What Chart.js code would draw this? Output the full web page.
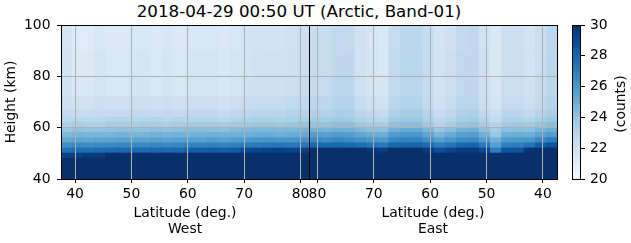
<!DOCTYPE html>
<html>
<head>
<meta charset="utf-8">
<script src="https://cdn.jsdelivr.net/npm/chart.js@4.4.1/dist/chart.umd.min.js"></script>
<style>
  html, body { margin: 0; padding: 0; background: #fff; }
  #fig { position: relative; width: 631px; height: 243px; overflow: hidden; font-family: "DejaVu Sans", sans-serif; }
  #fig canvas { position: absolute; top: 0; }
  #titulo { position: absolute; left: 0; top: 1px; width: 598px; text-align: center;
            font-size: 16.7px; line-height: 20px; color: #000; white-space: nowrap; }
</style>
</head>
<body>
<div id="fig">
  <div id="titulo">2018-04-29 00:50 UT (Arctic, Band-01)</div>
  <canvas id="c-west" width="320" height="243" style="left:0;width:320px;height:243px"></canvas>
  <canvas id="c-east" width="280" height="243" style="left:290px;width:280px;height:243px"></canvas>
  <canvas id="c-cbar" width="71" height="243" style="left:560px;width:71px;height:243px"></canvas>
</div>
<script>
/* ---------------- dados ---------------- */
// centros das colunas de latitude (2 graus)
const LATITUDES = [38.5, 40.5, 42.5, 44.5, 46.5, 48.5, 50.5, 52.5, 54.5, 56.5, 58.5,
                   60.5, 62.5, 64.5, 66.5, 68.5, 70.5, 72.5, 74.5, 76.5, 78.5, 80.5];
// limites das faixas de altura (km)
const HEIGHT_EDGES = [40, 48, 50, 52, 54, 56, 58, 60, 62, 64, 67, 72, 80, 90, 100];

const X_TICKS = [40, 50, 60, 70, 80];
const Y_TICKS = [40, 60, 80, 100];
const CBAR_TICKS = [20, 22, 24, 26, 28, 30];

// contagens, uma linha por faixa de altura (de baixo para cima), colunas por LATITUDES
const WEST_COUNTS = [
  [31, 31, 31, 31, 31, 31, 31, 31, 31, 31, 31, 31, 31, 31, 31, 31, 31, 31, 31, 31, 31, 31],                 // 40-48
  [29.3, 29.3, 29.6, 29.6, 30, 30, 30, 30, 30, 30, 30, 31, 31, 31, 31, 31, 31, 31, 31, 31, 31, 31],         // 48-50
  [27.5, 27.6, 27.6, 27.7, 27.8, 27.9, 27.8, 27.8, 27.9, 27.8, 27.9, 28.2, 28.2, 28.3, 28.2, 28.3, 29.0, 29.2, 29.3, 29.3, 29.2, 29.3], // 50-52
  [26.3, 26.5, 26.4, 26.5, 26.6, 26.7, 26.6, 26.6, 26.7, 26.6, 26.7, 26.8, 26.8, 26.9, 26.8, 26.9, 27.1, 27.2, 27.3, 27.3, 27.2, 27.3], // 52-54
  [25.2, 25.4, 25.3, 25.4, 25.5, 25.6, 25.5, 25.5, 25.6, 25.5, 25.6, 25.6, 25.6, 25.7, 25.6, 25.7, 25.9, 26.0, 26.1, 26.0, 26.0, 26.1], // 54-56
  [24.5, 24.7, 24.6, 24.6, 24.7, 24.8, 24.7, 24.7, 24.8, 24.7, 24.8, 24.8, 24.8, 24.9, 24.8, 24.9, 25.0, 25.1, 25.1, 25.0, 25.1, 25.2], // 56-58
  [23.9, 24.1, 24.0, 24.0, 24.1, 24.2, 24.1, 24.1, 24.2, 24.1, 24.2, 24.3, 24.3, 24.3, 24.2, 24.4, 24.5, 24.6, 24.6, 24.5, 24.6, 24.7], // 58-60
  [23.3, 23.4, 23.3, 23.3, 23.5, 23.5, 23.4, 23.5, 23.5, 23.4, 23.5, 23.6, 23.6, 23.6, 23.5, 23.7, 23.8, 23.9, 23.9, 23.8, 23.9, 24.0], // 60-62
  [22.9, 22.9, 22.8, 22.9, 23.0, 23.0, 22.9, 23.0, 23.0, 22.9, 23.0, 23.0, 23.0, 23.0, 22.9, 23.1, 23.2, 23.3, 23.3, 23.2, 23.3, 23.4], // 62-64
  [22.6, 22.4, 22.4, 22.5, 22.5, 22.5, 22.6, 22.6, 22.5, 22.6, 22.5, 22.7, 22.7, 22.7, 22.5, 22.7, 22.8, 22.9, 22.9, 22.9, 23.0, 23.1], // 64-67
  [22.3, 22.0, 22.0, 22.2, 22.1, 22.1, 22.2, 22.2, 22.1, 22.2, 22.1, 22.2, 22.2, 22.2, 22.0, 22.2, 22.4, 22.5, 22.5, 22.5, 22.6, 22.7], // 67-72
  [22.0, 21.6, 21.6, 21.8, 21.6, 21.6, 21.8, 21.8, 21.6, 21.8, 21.6, 21.8, 21.8, 21.8, 21.6, 21.8, 22.0, 22.1, 22.1, 22.1, 22.2, 22.4], // 72-80
  [21.9, 21.4, 21.4, 21.7, 21.5, 21.5, 21.7, 21.7, 21.5, 21.7, 21.5, 21.7, 21.7, 21.7, 21.5, 21.7, 21.9, 22.0, 22.0, 22.0, 22.1, 22.3], // 80-90
  [21.8, 21.3, 21.3, 21.6, 21.4, 21.4, 21.6, 21.6, 21.4, 21.6, 21.4, 21.6, 21.6, 21.6, 21.4, 21.6, 21.8, 21.9, 21.9, 21.9, 22.0, 22.2], // 90-100
];

const EAST_COUNTS = [
  [31, 31, 31, 31, 31, 31, 31, 31, 31, 31, 31, 31, 31, 31, 31, 31, 31, 31, 31, 31, 31, 31],                 // 40-48
  [31, 31, 31, 31, 31, 30.0, 31, 31, 31, 31, 31, 31, 31, 31, 31, 31, 31, 31, 31, 31, 31, 31],              // 48-50
  [31, 31, 29.8, 28.6, 28.5, 27.0, 29.0, 29.6, 29.6, 29.2, 28.8, 29.6, 31, 31, 31, 29.5, 29.8, 30.2, 31, 31, 31, 31], // 50-52
  [28.6, 28.2, 27.4, 27.0, 26.9, 25.6, 27.2, 28.0, 27.9, 27.4, 27.1, 27.7, 28.0, 28.0, 27.8, 27.2, 27.4, 27.6, 27.8, 27.9, 27.8, 27.9], // 52-54
  [27.0, 26.6, 26.0, 25.9, 25.8, 24.8, 25.8, 26.6, 26.5, 26.0, 25.6, 26.3, 26.8, 26.8, 26.6, 25.9, 26.0, 26.3, 26.5, 26.6, 26.4, 26.5], // 54-56
  [25.8, 25.5, 25.0, 25.0, 24.9, 23.9, 24.9, 25.7, 25.6, 25.1, 24.6, 25.4, 26.0, 26.0, 25.8, 25.0, 25.1, 25.3, 25.7, 25.8, 25.6, 25.7], // 56-58
  [25.0, 24.7, 24.2, 24.3, 24.2, 23.5, 24.2, 24.9, 24.8, 24.3, 23.9, 24.6, 25.2, 25.2, 24.9, 24.1, 24.2, 24.5, 24.8, 24.9, 24.7, 24.8], // 58-60
  [24.3, 24.0, 23.6, 23.8, 23.7, 23.0, 23.5, 24.1, 24.0, 23.5, 23.1, 23.8, 24.3, 24.3, 24.1, 23.5, 23.6, 23.8, 24.2, 24.2, 24.0, 24.1], // 60-62
  [23.8, 23.4, 23.0, 23.2, 23.2, 22.5, 23.0, 23.6, 23.5, 23.0, 22.7, 23.3, 23.8, 23.8, 23.6, 22.9, 23.0, 23.2, 23.7, 23.7, 23.5, 23.6], // 62-64
  [23.4, 23.0, 22.6, 22.9, 22.9, 22.2, 22.6, 23.3, 23.2, 22.7, 22.4, 23.0, 23.5, 23.5, 23.2, 22.5, 22.6, 22.8, 23.3, 23.3, 23.1, 23.2], // 64-67
  [23.0, 22.6, 22.2, 22.5, 22.5, 21.8, 22.3, 22.9, 22.9, 22.4, 22.0, 22.6, 23.1, 23.1, 22.8, 22.0, 22.1, 22.4, 23.0, 23.0, 22.7, 22.8], // 67-72
  [22.9, 22.4, 22.0, 22.3, 22.3, 21.6, 22.1, 22.7, 22.7, 22.2, 21.9, 22.5, 22.9, 22.9, 22.6, 21.7, 21.9, 22.1, 22.8, 22.8, 22.5, 22.5], // 72-80
  [22.9, 22.3, 21.9, 22.3, 22.3, 21.5, 22.1, 22.7, 22.7, 22.2, 21.9, 22.5, 22.9, 22.9, 22.6, 21.5, 21.8, 22.0, 22.7, 22.7, 22.4, 22.4], // 80-90
  [22.8, 22.3, 21.9, 22.2, 22.3, 21.5, 22.0, 22.7, 22.6, 22.1, 21.8, 22.4, 22.8, 22.8, 22.5, 21.5, 21.7, 22.0, 22.6, 22.7, 22.4, 22.4], // 90-100
];

/* ---------------- mapa de cores (Blues, 20 a 30) ---------------- */
const V_MIN = 20, V_MAX = 30;
const BLUES = ["#f7fbff", "#deebf7", "#c6dbef", "#9ecae1", "#6baed6", "#4292c6", "#2171b5", "#08519c", "#08306b"];
const rgb = (h) => [1, 3, 5].map((i) => parseInt(h.slice(i, i + 2), 16));

function corDe(v) {
  const t = Math.min(Math.max((v - V_MIN) / (V_MAX - V_MIN), 0), 1) * (BLUES.length - 1);
  const i = Math.min(Math.floor(t), BLUES.length - 2);
  const f = t - i;
  const a = rgb(BLUES[i]), b = rgb(BLUES[i + 1]);
  return `rgb(${a.map((x, k) => Math.round(x + (b[k] - x) * f)).join(",")})`;
}

Chart.defaults.font.family = "'DejaVu Sans', sans-serif";
Chart.defaults.color = "#000";

const FONTE = { size: 13.9 };
const GRADE = "#b0b0b0";

// moldura preta em volta da área do gráfico (spines)
const moldura = {
  id: "moldura",
  afterDraw(chart) {
    const { ctx, chartArea: a } = chart;
    ctx.save();
    ctx.strokeStyle = "#000";
    ctx.lineWidth = 1;
    ctx.strokeRect(Math.round(a.left) + 0.5, Math.round(a.top) + 0.5,
      Math.round(a.right - a.left), Math.round(a.bottom - a.top));
    ctx.restore();
  },
};

function datasetsDe(counts) {
  return counts.map((linha, r) => ({
    data: LATITUDES.map((lat) => ({ x: lat, y: [HEIGHT_EDGES[r], HEIGHT_EDGES[r + 1]] })),
    backgroundColor: linha.map(corDe),
    borderWidth: 0,
    barPercentage: 1,
    categoryPercentage: 1,
    grouped: false,
    inflateAmount: 0.6,
  }));
}

function painel(id, counts, { lado, reverse, padLeft, padRight, mostraY }) {
  return new Chart(document.getElementById(id), {
    type: "bar",
    data: { datasets: datasetsDe(counts) },
    plugins: [moldura],
    options: {
      responsive: false, animation: false,
      layout: { padding: { top: 25, bottom: 0, left: padLeft, right: padRight } },
      plugins: { legend: { display: false }, tooltip: { enabled: false } },
      scales: {
        x: {
          type: "linear", min: 37.5, max: 81.5, reverse, offset: false,
          afterBuildTicks: (s) => { s.ticks = X_TICKS.map((v) => ({ value: v })); },
          afterFit: (s) => { s.height = 64; },
          grid: { z: 1, color: GRADE, offset: false, tickColor: "#000", tickLength: 4 },
          border: { display: false },
          ticks: { font: FONTE, padding: 3, autoSkip: false, maxRotation: 0, minRotation: 0 },
          title: { display: true, text: ["Latitude (deg.)", lado], font: { size: 13.9, lineHeight: 1.125 },
                   padding: { top: 0, bottom: 6 } },
        },
        y: {
          type: "linear", min: 40, max: 100,
          afterBuildTicks: (s) => { s.ticks = Y_TICKS.map((v) => ({ value: v })); },
          afterFit: (s) => { s.width = mostraY ? 61 : 0; },
          grid: { z: 1, color: GRADE, tickColor: "#000", tickLength: 4, drawTicks: mostraY },
          border: { display: false },
          ticks: { display: mostraY, font: FONTE, padding: 6.5 },
          title: { display: mostraY, text: "Height (km)", font: FONTE, padding: { top: 3, bottom: 0 } },
        },
      },
    },
  });
}

painel("c-west", WEST_COUNTS, { lado: "West", reverse: false, padLeft: 0, padRight: 11, mostraY: true });
painel("c-east", EAST_COUNTS, { lado: "East", reverse: true, padLeft: 19, padRight: 13, mostraY: false });

/* ---------------- barra de cores ---------------- */
const rotuloBarra = {
  id: "rotuloBarra",
  afterDraw(chart) {
    const { ctx } = chart;
    ctx.save();
    ctx.translate(625 - 560, 104);
    ctx.rotate(-Math.PI / 2);
    ctx.font = "13.9px 'DejaVu Sans', sans-serif";
    ctx.fillStyle = "#000";
    ctx.textAlign = "center";
    ctx.textBaseline = "alphabetic";
    ctx.fillText("(counts)", 0, 0);
    ctx.restore();
  },
};

new Chart(document.getElementById("c-cbar"), {
  type: "bar",
  data: {
    labels: ["counts"],
    datasets: [{
      data: [[V_MIN, V_MAX]],
      barPercentage: 1, categoryPercentage: 1, borderWidth: 0,
      backgroundColor: (ctx) => {
        const a = ctx.chart.chartArea;
        if (!a) return BLUES[4];
        const g = ctx.chart.ctx.createLinearGradient(0, a.bottom, 0, a.top);
        BLUES.forEach((c, i) => g.addColorStop(i / (BLUES.length - 1), c));
        return g;
      },
    }],
  },
  plugins: [moldura, rotuloBarra],
  options: {
    responsive: false, animation: false,
    layout: { padding: { top: 25, bottom: 64, left: 12, right: 0 } },
    plugins: { legend: { display: false }, tooltip: { enabled: false } },
    scales: {
      x: { display: false },
      y: {
        position: "right", min: V_MIN, max: V_MAX,
        afterBuildTicks: (s) => { s.ticks = CBAR_TICKS.map((v) => ({ value: v })); },
        afterFit: (s) => { s.width = 51; },
        grid: { drawOnChartArea: false, tickColor: "#000", tickLength: 5 },
        border: { display: false },
        ticks: { font: FONTE, padding: 5 },
      },
    },
  },
});
</script>
</body>
</html>
